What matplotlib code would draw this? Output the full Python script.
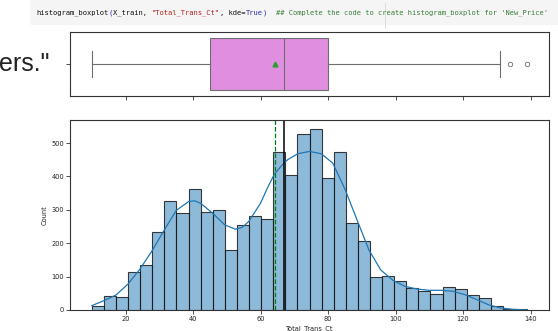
import numpy as np
import matplotlib
matplotlib.use('Agg')
import matplotlib.pyplot as plt
from matplotlib.patches import Rectangle

# histogram of Total_Trans_Ct (counts per bin)
bin_lo, bin_hi, nbins = 10, 139, 36
counts = [13, 41, 39, 114, 135, 233, 325, 290, 363, 293, 299, 181, 255, 283, 274,
          472, 403, 527, 542, 395, 473, 260, 207, 100, 103, 87, 66, 57, 47, 69,
          64, 46, 35, 12, 4, 2]

# kde curve, scaled to counts
kde_x = [10, 13.6, 17.2, 20.75, 24.3, 27.9, 31.5, 35, 38.7, 40.5, 42.2, 45.8, 49.4,
         52.5, 54.5, 56.5, 60, 62, 64, 66, 68, 71, 74.5, 78, 81.4, 85, 88.5, 92.1,
         95.6, 99.2, 102.7, 106.3, 109.8, 113.4, 117, 120.5, 124.1, 127.7, 131.2,
         134.7, 139]
kde_y = [13, 28, 45, 78, 123, 178, 240, 298, 325, 327, 320, 290, 255,
         242, 247, 265, 320, 365, 405, 430, 450, 468, 475, 468, 440, 362, 272, 180,
         120, 89, 71, 63, 59, 59, 56, 46, 31, 15, 6, 2, 0]

# boxplot summary
box_min, box_q1, box_med, box_q3, box_max = 10, 45, 67, 80, 131
box_fliers = [134, 139]
mean_val = 64.4

code_parts = [
    ("histogram_boxplot", '#111111'),
    ("(", '#2a2ab0'),
    ("X_train, ", '#111111'),
    ('"Total_Trans_Ct"', '#ba2121'),
    (", kde=", '#111111'),
    ("True", '#2a2ab0'),
    (")", '#2a2ab0'),
]
code_comment = "## Complete the code to create histogram_boxplot for 'New_Price'"

W, H = 558, 331
fig = plt.figure(figsize=(W / 100., H / 100.), dpi=100)

def px_box(x0, y0, x1, y1):
    # pixel box (top-left origin) -> figure fraction rect
    return [x0 / W, 1 - y1 / H, (x1 - x0) / W, (y1 - y0) / H]

# notebook cell bits around the figure
fig.patches.append(Rectangle((30. / W, 1 - 25. / H), 1, 25. / H,
                             transform=fig.transFigure, facecolor='#f5f5f5',
                             edgecolor='none', zorder=0))
fig.add_artist(plt.Line2D([385. / W, 385. / W], [1 - 3. / H, 1 - 28. / H],
                          transform=fig.transFigure, color='#d8d8d8', linewidth=0.6))
fs_code = 5.1
cw = 0.602 * fs_code * 100 / 72.  # monospace char width in px
n = 0
for txt, col in code_parts:
    fig.text((36.5 + n * cw) / W, 1 - 12.7 / H, txt, family='DejaVu Sans Mono',
             fontsize=fs_code, color=col, va='center', ha='left')
    n += len(txt)
fig.text(276. / W, 1 - 12.7 / H, code_comment, family='DejaVu Sans Mono',
         fontsize=fs_code, color='#3a7f3a', va='center', ha='left')
fig.text(-1. / W, 1 - 70.7 / H, 'ers."', family='Liberation Sans', fontsize=18,
         color='#222222', va='baseline', ha='left')

ax_box = fig.add_axes(px_box(70, 32, 549, 96))
ax_hist = fig.add_axes(px_box(70, 120, 549, 310), sharex=ax_box)

tick_fs = 4.8
for ax in (ax_box, ax_hist):
    for s in ax.spines.values():
        s.set_color('#333333')
        s.set_linewidth(0.8)
    ax.tick_params(length=2.6, width=0.6, pad=1.5, labelsize=tick_fs,
                   colors='#333333', labelcolor='#222222')

# boxplot
stats = [dict(whislo=box_min, q1=box_q1, med=box_med, q3=box_q3, whishi=box_max,
              fliers=box_fliers, mean=mean_val)]
gray = '#6e6e6e'
ax_box.bxp(stats, positions=[0], widths=0.8, orientation='horizontal',
           showmeans=True, patch_artist=True,
           boxprops=dict(facecolor='#e08fe0', edgecolor=gray, linewidth=0.8),
           medianprops=dict(color=gray, linewidth=0.8),
           whiskerprops=dict(color=gray, linewidth=0.8),
           capprops=dict(color=gray, linewidth=0.8),
           meanprops=dict(marker='^', markerfacecolor='#2ca02c',
                          markeredgecolor='#2ca02c', markersize=3.5),
           flierprops=dict(marker='o', markerfacecolor='none',
                           markeredgecolor=gray, markersize=3.2, markeredgewidth=0.6))
ax_box.set_ylim(0.5, -0.5)
ax_box.set_yticks([0])
ax_box.set_yticklabels([''])
ax_box.tick_params(axis='x', labelbottom=False)

# histogram + kde
edges = np.linspace(bin_lo, bin_hi, nbins + 1)
ax_hist.bar(edges[:-1], counts, width=np.diff(edges), align='edge',
            facecolor=(0.122, 0.467, 0.706, 0.5), edgecolor=(0.1, 0.1, 0.1, 0.85),
            linewidth=0.8)
ax_hist.plot(kde_x, kde_y, color='#1f77b4', linewidth=0.9)
ax_hist.axvline(mean_val, color='green', linestyle='--', linewidth=0.9)
ax_hist.axvline(box_med, color='black', linestyle='-', linewidth=1.1)
ax_hist.set_xlim(bin_lo - 0.05 * (bin_hi - bin_lo), bin_hi + 0.05 * (bin_hi - bin_lo))
ax_hist.set_ylim(0, max(counts) * 1.05)
ax_hist.set_xticks([20, 40, 60, 80, 100, 120, 140])
ax_hist.set_yticks([0, 100, 200, 300, 400, 500])
ax_hist.set_ylabel('Count', fontsize=tick_fs, color='#222222', labelpad=3)
ax_hist.set_xlabel('Total_Trans_Ct', fontsize=tick_fs, color='#222222', labelpad=2.5)

fig.savefig('out.png', dpi=100)
